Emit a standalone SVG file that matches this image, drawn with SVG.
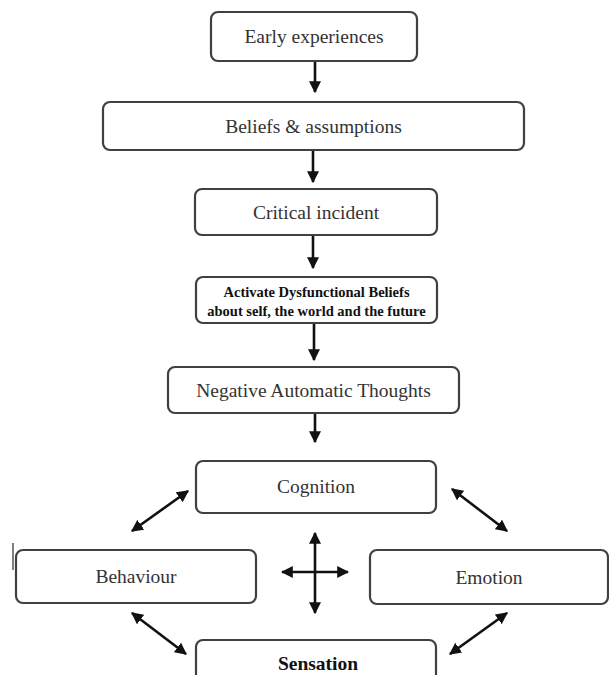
<svg xmlns="http://www.w3.org/2000/svg" width="609" height="675" viewBox="0 0 609 675">
<style>
.box{fill:#fff;stroke:#404040;stroke-width:2.2}
.t{font-family:"Liberation Serif","Times New Roman",serif;font-size:19.5px;fill:#333;text-anchor:middle}
.b{font-weight:bold;fill:#111}
.s{font-size:14.5px}
.c{stroke:#111;stroke-width:2.6;fill:none}
</style>
<defs>
<marker id="ah" viewBox="0 0 10 10" refX="9" refY="5" markerWidth="12" markerHeight="12" markerUnits="userSpaceOnUse" orient="auto-start-reverse">
<path d="M0,0 L10,5 L0,10 z" fill="#111"/>
</marker>
</defs>
<rect width="609" height="675" fill="#fff"/>
<g id="connectors">
<line class="c" x1="315" y1="61" x2="315" y2="92" marker-end="url(#ah)"/>
<line class="c" x1="313" y1="150" x2="313" y2="182" marker-end="url(#ah)"/>
<line class="c" x1="313" y1="235" x2="313" y2="268" marker-end="url(#ah)"/>
<line class="c" x1="314" y1="323" x2="314" y2="360" marker-end="url(#ah)"/>
<line class="c" x1="315" y1="413" x2="315" y2="442" marker-end="url(#ah)"/>
<line class="c" x1="132" y1="531" x2="188" y2="491" marker-start="url(#ah)" marker-end="url(#ah)"/>
<line class="c" x1="452" y1="489" x2="507" y2="531" marker-start="url(#ah)" marker-end="url(#ah)"/>
<line class="c" x1="132" y1="613" x2="186" y2="654" marker-start="url(#ah)" marker-end="url(#ah)"/>
<line class="c" x1="507" y1="613" x2="450" y2="654" marker-start="url(#ah)" marker-end="url(#ah)"/>
<line class="c" x1="315" y1="533" x2="315" y2="613" marker-start="url(#ah)" marker-end="url(#ah)"/>
<line class="c" x1="282" y1="572" x2="348" y2="572" marker-start="url(#ah)" marker-end="url(#ah)"/>
</g>
<g id="early">
<rect class="box" x="211" y="12" width="206" height="49" rx="7"/>
<text class="t" x="314" y="43">Early experiences</text>
</g>
<g id="beliefs">
<rect class="box" x="103" y="102" width="421" height="48" rx="7"/>
<text class="t" x="313.5" y="133">Beliefs &amp; assumptions</text>
</g>
<g id="critical">
<rect class="box" x="195" y="189" width="242" height="46" rx="7"/>
<text class="t" x="316" y="219">Critical incident</text>
</g>
<g id="activate">
<rect class="box" x="196" y="277" width="241" height="46" rx="7"/>
<text class="t b s" x="316.5" y="297">Activate Dysfunctional Beliefs</text>
<text class="t b s" x="316.5" y="316">about self, the world and the future</text>
</g>
<g id="nat">
<rect class="box" x="168" y="367" width="291" height="46" rx="7"/>
<text class="t" x="313.5" y="397">Negative Automatic Thoughts</text>
</g>
<g id="cognition">
<rect class="box" x="196" y="461" width="240" height="52" rx="7"/>
<text class="t" x="316" y="493">Cognition</text>
</g>
<g id="behaviour">
<rect class="box" x="16" y="550" width="240" height="53" rx="7"/>
<line x1="13" y1="543" x2="13" y2="570" stroke="#555" stroke-width="1.5"/>
<text class="t" x="136" y="583">Behaviour</text>
</g>
<g id="emotion">
<rect class="box" x="370" y="550" width="238" height="54" rx="7"/>
<text class="t" x="489" y="584">Emotion</text>
</g>
<g id="sensation">
<rect class="box" x="196" y="640" width="240" height="60" rx="7"/>
<text class="t b" x="318" y="670">Sensation</text>
</g>
</svg>
